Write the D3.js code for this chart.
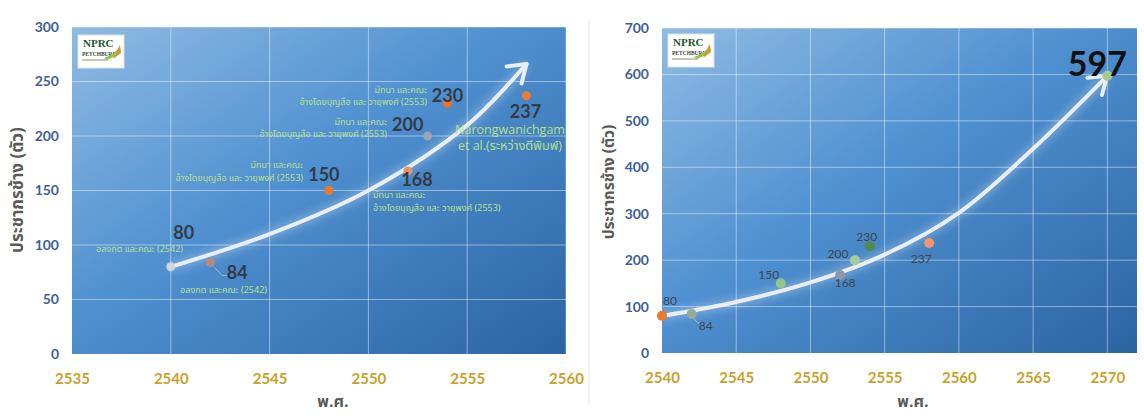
<!DOCTYPE html>
<html><head><meta charset="utf-8">
<script src="https://cdn.jsdelivr.net/npm/d3@7/dist/d3.min.js"></script>
<style>
body{margin:0;background:#fff;}
svg{display:block;}
.thai{font-family:"Noto Sans Thai","Noto Sans Thai UI","Noto Looped Thai","Noto Sans","DejaVu Sans",sans-serif;}
.num{font-family:Lato,"Open Sans",sans-serif;}
</style></head>
<body>
<svg id="c" width="1144" height="416"></svg>
<script>
// ---------- data ----------
const years = [2540, 2542, 2548, 2552, 2553, 2554, 2558];
const population = [80, 84, 150, 168, 200, 230, 237];
const projYear = 2570;
const projValue = 597;
// trend curve
const trendYearsL = [2540, 2545, 2550, 2555, 2558];
const trendValsL = [80, 110, 150, 210, 266];
const trendYearsR = [2540, 2545, 2550, 2555, 2560, 2565, 2570];
const trendValsR = [80, 110, 152, 212, 302, 440, 597];
const xTicksL = [2535, 2540, 2545, 2550, 2555, 2560];
const yTicksL = [0, 50, 100, 150, 200, 250, 300];
const xTicksR = [2540, 2545, 2550, 2555, 2560, 2565, 2570];
const yTicksR = [0, 100, 200, 300, 400, 500, 600, 700];
const sources = [
  ["อลงกต และคณะ (2542)"],
  ["อลงกต และคณะ (2542)"],
  ["มัทนา และคณะ", "อ้างโดยบุญสือ และ วายุพงศ์ (2553)"],
  ["มัทนา และคณะ", "อ้างโดยบุญสือ และ วายุพงศ์ (2553)"],
  ["มัทนา และคณะ", "อ้างโดยบุญสือ และ วายุพงศ์ (2553)"],
  ["มัทนา และคณะ", "อ้างโดยบุญสือ และ วายุพงศ์ (2553)"],
  ["Narongwanichgam", "et al.(ระหว่างตีพิมพ์)"]
];
const yTitle = "ประชากรช้าง (ตัว)";
const xTitle = "พ.ศ.";

// ---------- styles ----------
const colorsL = ["#cfd6de", "#b58a7c", "#ea7a30", "#e59468", "#9ea4b0", "#ec7222", "#ec7a32"];
const colorsR = ["#ec7a2a", "#93ad94", "#92c48c", "#8f98a8", "#a6cb9c", "#4d8c4a", "#f2956a"];
const numOffL = [[13, -28], [27, 17], [-5, -10], [9, 15], [-20, -5], [0, -1], [-1, 22]];
const numOffR = [[8, -11], [14, 16], [-12, -4], [5, 12], [-17, -2], [-3, -5], [-8, 20]];

const svg = d3.select("#c");
const defs = svg.append("defs");
const grad = defs.append("linearGradient").attr("id","bg").attr("x1","0").attr("y1","0").attr("x2","1").attr("y2","1");
grad.append("stop").attr("offset","0").attr("stop-color","#8fbbe3");
grad.append("stop").attr("offset","0.45").attr("stop-color","#4f90d0");
grad.append("stop").attr("offset","1").attr("stop-color","#2c64a2");
const glow = defs.append("filter").attr("id","glow").attr("x","-20%").attr("y","-20%").attr("width","140%").attr("height","140%");
glow.append("feGaussianBlur").attr("stdDeviation","4");

svg.append("line").attr("x1",589).attr("x2",589).attr("y1",20).attr("y2",405).attr("stroke","#e6e6e6").attr("stroke-width",1);

function logo(g, x, y){
  const lg = g.append("g").attr("transform",`translate(${x},${y})`);
  lg.append("rect").attr("width",46).attr("height",33).attr("fill","#fff").attr("stroke","#dde3ea");
  lg.append("text").attr("x",5).attr("y",12).attr("font-family","'Liberation Serif',serif").attr("font-weight","bold")
    .attr("font-size",11).attr("fill","#1f5a2a").text("NPRC");
  lg.append("text").attr("x",4).attr("y",21).attr("font-family","'Liberation Serif',serif").attr("font-weight","bold")
    .attr("font-size",5.5).attr("fill","#3a4a3a").text("PETCHBURI");
  lg.append("line").attr("x1",4).attr("x2",30).attr("y1",25).attr("y2",25).attr("stroke","#7a9a6a").attr("stroke-width",1);
  lg.append("path").attr("d","M26,23 Q34,20 42,13 Q39,22 29,25 Z").attr("fill","#9cc04a");
  lg.append("path").attr("d","M35,24 Q38,16 42,10 L43,18 Z").attr("fill","#c89a3a");
}

function chart(cfg){
  const g = svg.append("g");
  const x = d3.scaleLinear().domain(cfg.xd).range(cfg.xr);
  const y = d3.scaleLinear().domain(cfg.yd).range(cfg.yr);
  const [x0,x1] = cfg.xr, [y0,y1] = cfg.yr;
  g.append("rect").attr("x",x0).attr("y",y1).attr("width",x1-x0).attr("height",y0-y1).attr("fill","url(#bg)");
  g.append("g").selectAll("line").data(cfg.xt.filter(d=>d>cfg.xd[0])).join("line")
    .attr("x1",d=>x(d)).attr("x2",d=>x(d)).attr("y1",y1).attr("y2",y0)
    .attr("stroke","#fff").attr("stroke-opacity",0.45).attr("stroke-width",1);
  g.append("g").selectAll("line").data(cfg.yt.filter(d=>d>0)).join("line")
    .attr("x1",x0).attr("x2",x1).attr("y1",d=>y(d)).attr("y2",d=>y(d))
    .attr("stroke","#fff").attr("stroke-opacity",0.45).attr("stroke-width",1);
  const xa = g.append("g").attr("transform",`translate(0,${y0})`)
    .call(d3.axisBottom(x).tickValues(cfg.xt).tickFormat(d3.format("d")).tickSize(0).tickPadding(19));
  xa.select(".domain").remove();
  xa.selectAll("text").attr("class","num").attr("font-size",15).attr("font-weight","bold").attr("fill","#c9a12a");
  const ya = g.append("g").attr("transform",`translate(${x0},0)`)
    .call(d3.axisLeft(y).tickValues(cfg.yt).tickSize(0).tickPadding(13));
  ya.select(".domain").remove();
  ya.selectAll("text").attr("class","num").attr("font-size",14).attr("font-weight","bold").attr("fill","#3d5f9c");
  g.append("text").attr("class","thai").attr("x",cfg.xtPos[0]).attr("y",cfg.xtPos[1]).attr("text-anchor","middle")
    .attr("font-size",16).attr("font-weight","bold").attr("fill","#595959").text(xTitle);
  g.append("text").attr("class","thai").attr("transform",`translate(${cfg.ytPos[0]},${cfg.ytPos[1]}) rotate(-90)`)
    .attr("text-anchor","middle").attr("dominant-baseline","middle")
    .attr("font-size",cfg.ytSize).attr("font-weight","bold").attr("fill","#595959").text(yTitle);
  logo(g, cfg.logo[0], cfg.logo[1]);
  return {g,x,y};
}

function trend(C, ty, tv){
  const line = d3.line().x((d,i)=>C.x(ty[i])).y(d=>C.y(d)).curve(d3.curveCatmullRom);
  C.g.append("path").attr("d",line(tv)).attr("fill","none").attr("stroke","#ffffff").attr("stroke-opacity",0.3)
    .attr("stroke-width",8).attr("filter","url(#glow)");
  C.g.append("path").attr("d",line(tv)).attr("fill","none").attr("stroke","#e9eef3").attr("stroke-width",4).attr("stroke-linecap","round");
  const n = ty.length;
  const ex = C.x(ty[n-1]), ey = C.y(tv[n-1]);
  const px = C.x(ty[n-2]), py = C.y(tv[n-2]);
  const ang = Math.atan2(ey-py, ex-px) + 0.08;
  const len = 20, spread = 0.6;
  const p1 = [ex - len*Math.cos(ang-spread), ey - len*Math.sin(ang-spread)];
  const p2 = [ex - len*Math.cos(ang+spread), ey - len*Math.sin(ang+spread)];
  C.g.append("path").attr("d",`M${p1}L${ex},${ey}L${p2}`).attr("fill","none").attr("stroke","#e9eef3")
    .attr("stroke-width",4).attr("stroke-linecap","round").attr("stroke-linejoin","round");
}

// ---------- left chart ----------
const L = chart({xd:[2535,2560], xr:[72,566], yd:[0,300], yr:[354,27], xt:xTicksL, yt:yTicksL,
  xtPos:[333,407], ytPos:[18,190], ytSize:17, logo:[78,35]});
trend(L, trendYearsL, trendValsL);
L.g.append("path").attr("d",`M${L.x(years[1])+3},${L.y(population[1])+4}L${L.x(years[1])+12},${L.y(population[1])+13}L${L.x(years[1])+17},${L.y(population[1])+13}`)
  .attr("fill","none").attr("stroke","#9bb4cc").attr("stroke-width",1);
L.g.selectAll("circle.p").data(population).join("circle").attr("class","p")
  .attr("cx",(d,i)=>L.x(years[i])).attr("cy",d=>L.y(d)).attr("r",4.5).attr("fill",(d,i)=>colorsL[i]);
L.g.selectAll("text.n").data(population).join("text").attr("class","num n")
  .attr("x",(d,i)=>L.x(years[i])+numOffL[i][0]).attr("y",(d,i)=>L.y(d)+numOffL[i][1])
  .attr("text-anchor","middle").attr("font-size",18).attr("font-weight","bold").attr("fill","#333b45").text(d=>d);
const srcPos = [[183,252,"end",9,0],[267,293,"end",9,0],[303,168,"end",9,13],[373,198,"start",9,13],
  [387,125,"end",9,12],[427,93,"end",9,12],[510,134,"middle",12.5,16]];
sources.forEach((lines,i)=>{
  const p = srcPos[i];
  const t = L.g.append("text").attr("x",p[0]).attr("y",p[1])
    .attr("text-anchor",p[2]).attr("font-size",p[3]).attr("fill","#b6e08a");
  if(i===6) t.style("font-family","'Open Sans','Noto Sans Thai',sans-serif");
  else t.style("font-family","'Noto Sans Thai','Noto Sans',sans-serif");
  lines.forEach((s,k)=>t.append("tspan").attr("x",p[0]).attr("dy",k?p[4]:0).text(s));
});

// ---------- right chart ----------
const R = chart({xd:[2540,2572], xr:[662,1137], yd:[0,700], yr:[353,28], xt:xTicksR, yt:yTicksR,
  xtPos:[913,407], ytPos:[610,182], ytSize:15.5, logo:[668,34]});
trend(R, trendYearsR, trendValsR);
R.g.append("path").attr("d",`M${R.x(years[1])+2},${R.y(population[1])+4}L${R.x(years[1])+6},${R.y(population[1])+9}L${R.x(years[1])+9},${R.y(population[1])+9}`)
  .attr("fill","none").attr("stroke","#9bb4cc").attr("stroke-width",1);
R.g.selectAll("circle.p").data(population).join("circle").attr("class","p")
  .attr("cx",(d,i)=>R.x(years[i])).attr("cy",d=>R.y(d)).attr("r",5).attr("fill",(d,i)=>colorsR[i]);
R.g.append("circle").attr("cx",R.x(projYear)).attr("cy",R.y(projValue)).attr("r",5).attr("fill","#a8c890");
R.g.selectAll("text.n").data(population).join("text").attr("class","num n")
  .attr("x",(d,i)=>R.x(years[i])+numOffR[i][0]).attr("y",(d,i)=>R.y(d)+numOffR[i][1])
  .attr("text-anchor","middle").attr("font-size",12).attr("fill","#3f4650").text(d=>d);
R.g.append("text").attr("class","num").attr("x",R.x(projYear)-10).attr("y",R.y(projValue))
  .attr("text-anchor","middle").attr("font-size",34).attr("font-weight","bold").attr("fill","#111").text(projValue);
</script>
</body></html>
